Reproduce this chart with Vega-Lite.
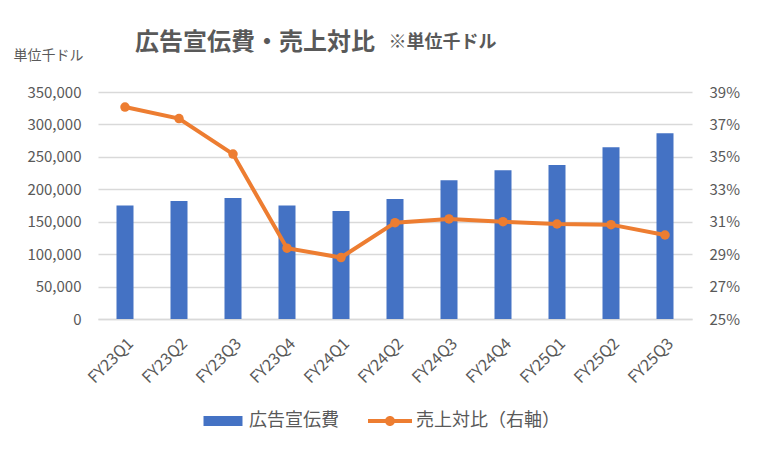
{
  "$schema": "https://vega.github.io/schema/vega-lite/v6.json",
  "autosize": "none",
  "width": 594,
  "height": 227,
  "padding": {"left": 98, "top": 92, "right": 65, "bottom": 133},
  "background": "white",
  "config": {
    "view": {"stroke": null},
    "font": "Noto Sans CJK JP",
    "axis": {"labelColor": "#595959", "labelFont": "Noto Sans CJK JP", "labelFontSize": 15, "titleColor": "#595959", "titleFont": "Noto Sans CJK JP"}
  },
  "title": {
    "text": "広告宣伝費・売上対比",
    "anchor": "start",
    "frame": "group",
    "dx": 37,
    "offset": -22,
    "fontSize": 24,
    "fontWeight": "bold",
    "color": "#595959",
    "font": "Noto Sans CJK JP"
  },
  "data": {
    "values": [
      {"q": "FY23Q1", "ad": 175000, "ratio": 0.3807},
      {"q": "FY23Q2", "ad": 182000, "ratio": 0.3736},
      {"q": "FY23Q3", "ad": 186500, "ratio": 0.3517},
      {"q": "FY23Q4", "ad": 175000, "ratio": 0.2937},
      {"q": "FY24Q1", "ad": 166500, "ratio": 0.2879},
      {"q": "FY24Q2", "ad": 185000, "ratio": 0.3094},
      {"q": "FY24Q3", "ad": 214000, "ratio": 0.3117},
      {"q": "FY24Q4", "ad": 229500, "ratio": 0.3100},
      {"q": "FY25Q1", "ad": 237500, "ratio": 0.3086},
      {"q": "FY25Q2", "ad": 265000, "ratio": 0.3082},
      {"q": "FY25Q3", "ad": 286500, "ratio": 0.3018}
    ]
  },
  "encoding": {
    "x": {
      "field": "q",
      "type": "nominal",
      "sort": null,
      "scale": {"paddingInner": 0, "paddingOuter": 0},
      "axis": {
        "title": null,
        "labelAngle": -45,
        "labelFontSize": 16,
        "labelPadding": 16,
        "ticks": false,
        "domain": true,
        "domainColor": "#D9D9D9",
        "domainWidth": 1.5
      }
    }
  },
  "layer": [
    {
      "mark": {"type": "bar", "color": "#4472C4", "width": 17},
      "encoding": {
        "y": {
          "field": "ad",
          "type": "quantitative",
          "scale": {"domain": [0, 350000], "nice": false},
          "axis": {
            "title": "単位千ドル",
            "titleAngle": 0,
            "titleAlign": "left",
            "titleBaseline": "middle",
            "titleX": -85,
            "titleY": -37,
            "titleFontSize": 14,
            "titleFontWeight": "normal",
            "values": [0, 50000, 100000, 150000, 200000, 250000, 300000, 350000],
            "format": ",.0f",
            "ticks": false,
            "domain": false,
            "labelPadding": 17,
            "grid": true,
            "gridColor": "#D9D9D9",
            "gridWidth": 1.3
          }
        }
      }
    },
    {
      "layer": [
        {
          "mark": {"type": "line", "color": "#ED7D31", "strokeWidth": 4, "point": {"filled": true, "size": 90, "color": "#ED7D31", "opacity": 1}},
          "encoding": {
            "y": {
              "field": "ratio",
              "type": "quantitative",
              "scale": {"domain": [0.25, 0.39], "nice": false, "zero": false},
              "axis": {
                "orient": "right",
                "title": "※単位千ドル",
                "titleAngle": 0,
                "titleAlign": "left",
                "titleBaseline": "middle",
                "titleX": -304,
                "titleY": -50,
                "titleFontSize": 18,
                "titleFontWeight": "bold",
                "values": [0.25, 0.27, 0.29, 0.31, 0.33, 0.35, 0.37, 0.39],
                "format": ".0%",
                "ticks": false,
                "domain": false,
                "grid": false,
                "labelPadding": 17
              }
            }
          }
        },
        {
          "data": {"values": [{"s": "広告宣伝費"}, {"s": "売上対比（右軸）"}]},
          "mark": {"type": "point", "filled": true, "size": 0, "opacity": 1, "fillOpacity": 1},
          "encoding": {
            "x": null,
            "color": {
              "field": "s",
              "type": "nominal",
              "scale": {"domain": ["広告宣伝費", "売上対比（右軸）"], "range": ["#4472C4", "#ED7D31"]},
              "legend": {
                "title": null,
                "orient": "none",
                "direction": "horizontal",
                "legendX": 103,
                "legendY": 307,
                "symbolSize": 1936,
                "symbolOpacity": 1,
                "symbolStrokeWidth": 0,
                "labelFontSize": 18,
                "labelColor": "#595959",
                "labelFont": "Noto Sans CJK JP",
                "labelOffset": 4,
                "labelLimit": 300,
                "columnPadding": 29
              }
            },
            "shape": {
              "field": "s",
              "type": "nominal",
              "scale": {
                "domain": ["広告宣伝費", "売上対比（右軸）"],
                "range": [
                  "M-0.886,-0.227H0.886V0.227H-0.886Z",
                  "M-1,-0.09H1V0.09H-1Z M0.227,0A0.227,0.227 0 1,1 -0.227,0A0.227,0.227 0 1,1 0.227,0Z"
                ]
              }
            }
          }
        }
      ]
    }
  ],
  "resolve": {"scale": {"y": "independent"}}
}
